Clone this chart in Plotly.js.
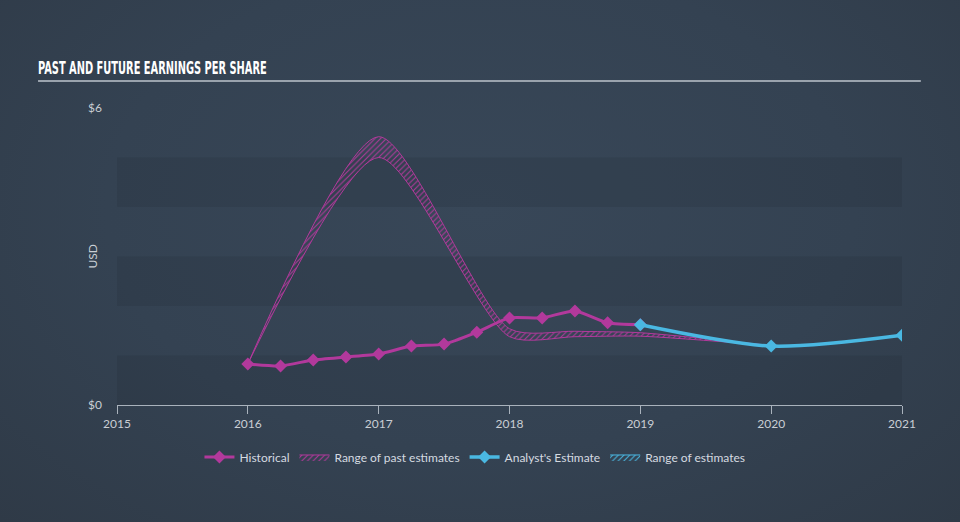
<!DOCTYPE html>
<html>
<head>
<meta charset="utf-8">
<script src="https://cdn.plot.ly/plotly-3.0.1.min.js"></script>
<style>
html,body{margin:0;padding:0;width:960px;height:522px;overflow:hidden;
background:radial-gradient(ellipse at 50% 40%, #384758 0%, #344252 55%, #2f3a47 100%);}
#chart{width:960px;height:522px;}
</style>
</head>
<body>
<div id="chart"></div>
<script>
// ---- data ----
const histX = [2016.0, 2016.25, 2016.5, 2016.75, 2017.0, 2017.25, 2017.5, 2017.75, 2018.0, 2018.25, 2018.5, 2018.75, 2019.0];
const histY = [0.83, 0.79, 0.91, 0.97, 1.03, 1.19, 1.23, 1.47, 1.76, 1.76, 1.90, 1.66, 1.62];

const estX = [2019.0, 2020.0, 2021.0];
const estY = [1.62, 1.19, 1.41];

const pastRangeX = [2016.0, 2017.0, 2018.0, 2018.5, 2019.0, 2020.0];
const pastRangeHigh = [0.83, 5.42, 1.54, 1.49, 1.46, 1.20];
const pastRangeLow = [0.83, 5.00, 1.38, 1.38, 1.39, 1.20];

const xTickVals = [2015, 2016, 2017, 2018, 2019, 2020, 2021];
const xTickText = ['2015', '2016', '2017', '2018', '2019', '2020', '2021'];
const yTickVals = [0, 6];
const yTickText = ['$0', '$6'];
const bandRanges = [[0, 1], [2, 3], [4, 5]];

// ---- styles ----
const MAG = '#b2399c';
const CYAN = '#4ab8e2';
const TXT = '#c9ced4';
const FONT = 'Lato, "Open Sans", sans-serif';

const traces = [
  {x: pastRangeX, y: pastRangeLow, type: 'scatter', mode: 'lines',
   line: {color: MAG, width: 1, shape: 'spline', smoothing: 0.7},
   showlegend: false, hoverinfo: 'skip'},
  {x: pastRangeX, y: pastRangeHigh, type: 'scatter', mode: 'lines', name: 'Range of past estimates',
   line: {color: MAG, width: 1, shape: 'spline', smoothing: 0.7},
   fill: 'tonexty', fillcolor: 'rgba(0,0,0,0)',
   fillpattern: {shape: '/', fgcolor: MAG, bgcolor: 'rgba(0,0,0,0)', size: 4, solidity: 0.25},
   legendrank: 2},
  {x: histX, y: histY, type: 'scatter', mode: 'lines+markers', name: 'Historical',
   line: {color: MAG, width: 3, shape: 'spline', smoothing: 0.6},
   marker: {symbol: 'diamond', size: 10, color: MAG},
   legendrank: 1},
  {x: estX, y: estY, type: 'scatter', mode: 'lines+markers', name: "Analyst's Estimate",
   line: {color: CYAN, width: 3.5, shape: 'spline', smoothing: 0.8},
   marker: {symbol: 'diamond', size: 10, color: CYAN},
   legendrank: 3},
  {x: [null], y: [null], type: 'scatter', mode: 'lines', name: 'Range of estimates',
   line: {color: CYAN, width: 1},
   fill: 'tozeroy', fillcolor: 'rgba(0,0,0,0)',
   fillpattern: {shape: '/', fgcolor: CYAN, bgcolor: 'rgba(0,0,0,0)', size: 4, solidity: 0.25},
   legendrank: 4}
];

const shapes = bandRanges.map(b => ({
  type: 'rect', xref: 'x', yref: 'y', x0: xTickVals[0], x1: xTickVals[xTickVals.length - 1],
  y0: b[0], y1: b[1], fillcolor: 'rgba(20,30,42,0.13)', line: {width: 0}, layer: 'below'
}));
shapes.push({type: 'line', xref: 'paper', yref: 'paper', x0: -0.1006, x1: 1.024, y0: 1.0909, y1: 1.0909,
  line: {color: '#9aa3ad', width: 2}});

const layout = {
  width: 960, height: 522,
  paper_bgcolor: 'rgba(0,0,0,0)', plot_bgcolor: 'rgba(0,0,0,0)',
  margin: {l: 117, r: 58, t: 108, b: 117},
  font: {family: FONT, color: TXT, size: 12},
  title: {text: 'PAST AND FUTURE EARNINGS PER SHARE', xref: 'container', yref: 'container',
    x: 38 / 960, xanchor: 'left', y: 1 - 68 / 522, yanchor: 'middle',
    font: {family: '"DejaVu Sans Condensed", "Liberation Sans Narrow", sans-serif', size: 18, color: '#ffffff', weight: 'bold'}},
  xaxis: {range: [2015, 2021], tickvals: xTickVals, ticktext: xTickText,
    showgrid: false, zeroline: false, showline: true, linecolor: '#a9b2bc', linewidth: 1,
    ticks: 'outside', ticklen: 8, tickcolor: '#a9b2bc', tickfont: {color: TXT, size: 12}},
  yaxis: {range: [0, 6], tickvals: yTickVals, ticktext: yTickText, showgrid: false, zeroline: false,
    showline: false, ticks: '', ticklabelstandoff: 14, tickfont: {color: TXT, size: 12}},
  showlegend: true,
  legend: {orientation: 'h', traceorder: 'normal', x: 0.456, xanchor: 'center', y: -0.175, yanchor: 'middle',
    font: {color: '#d5dae0', size: 12}, itemwidth: 30, bgcolor: 'rgba(0,0,0,0)'},
  annotations: [{text: 'USD', xref: 'paper', yref: 'paper', x: -0.0318, xanchor: 'center', y: 0.5, yanchor: 'middle',
    textangle: -90, showarrow: false, font: {color: TXT, size: 12}}],
  shapes: shapes
};

Plotly.newPlot('chart', traces, layout, {displayModeBar: false, staticPlot: true}).then(function () {
  // narrow the title glyphs horizontally to mimic the condensed display face
  const t = document.querySelector('.gtitle');
  if (t) {
    const w = t.getBBox().width;
    const s = w > 0 ? 229 / w : 0.62;
    t.setAttribute('transform', 'translate(38,0) scale(' + s + ',1) translate(-38,0)');
  }
});
</script>
</body>
</html>
